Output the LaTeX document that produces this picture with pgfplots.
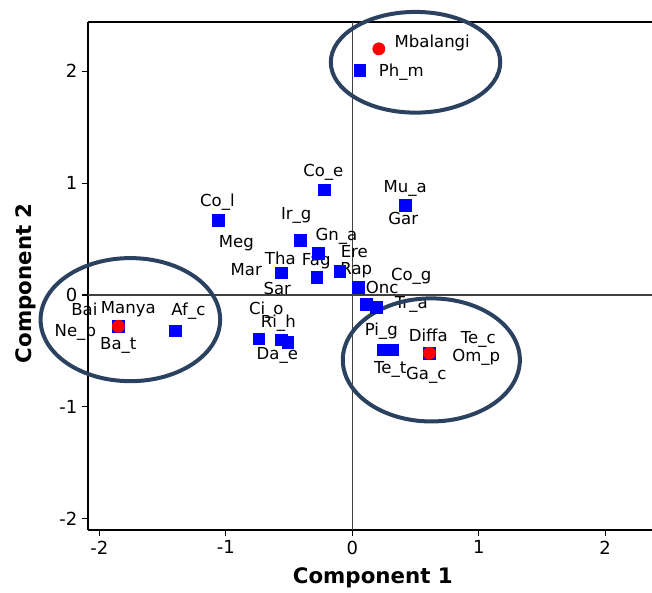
\documentclass[border=0pt]{standalone}
\usepackage{fontspec}
\setmainfont{DejaVu Sans}
\usepackage{pgfplots}
\pgfplotsset{compat=1.18}
\definecolor{ell}{HTML}{2B4160}
\definecolor{refl}{HTML}{404040}
\begin{document}
\begin{tikzpicture}
\begin{axis}[name=ax, scale only axis, width=423pt, height=381pt,
 xmin=-2.09, xmax=2.37, ymin=-2.10, ymax=2.44,
 clip=false,
 axis lines=left, axis line style={-, line width=1pt},
 xtick={-2,-1,0,1,2}, xticklabels={-2,-1,0,1,2},
 ytick={-2,-1,0,1,2}, yticklabels={-2,-1,0,1,2},
 tick align=outside, major tick length=4.5pt, tick style={black, line width=0.8pt},
 ticklabel style={font=\fontsize{13.5}{15}\selectfont},
 xlabel={Component 1}, ylabel={Component 2},
 label style={font=\bfseries\fontsize{16}{18}\selectfont},
 xlabel style={at={(axis description cs:0.505,-0.0945)}, anchor=center},
 ylabel style={at={(axis description cs:-0.111,0.486)}, anchor=center},
]
\draw[line width=1pt] (rel axis cs:0,1) -- (rel axis cs:1,1);
\draw[refl, line width=0.8pt] (axis cs:0,-2.10) -- (axis cs:0,2.44);
\draw[refl, line width=0.8pt] (axis cs:-2.09,0) -- (axis cs:2.37,0);
\addplot[only marks, mark=square*, mark size=4.4pt, blue] coordinates {
(0.06,2.01) (-0.22,0.94) (0.42,0.80) (-1.06,0.67) (-0.41,0.49)
(-0.27,0.375) (-0.56,0.20) (-0.28,0.16) (-0.10,0.21) (0.05,0.07)
(0.11,-0.08) (0.19,-0.11) (0.24,-0.49) (0.32,-0.49) (0.61,-0.52)
(-0.74,-0.39) (-0.56,-0.40) (-0.51,-0.42) (-1.40,-0.32) (-1.85,-0.28)};
\addplot[only marks, mark=*, mark size=4.6pt, red] coordinates {
(0.21,2.20) (0.61,-0.52) (-1.85,-0.28)};
\begin{scope}[font=\fontsize{12.4}{14}\selectfont]
\node at (axis cs:0.632,2.25) {Mbalangi};
\node at (axis cs:0.387,1.99) {Ph\_m};
\node at (axis cs:-0.229,1.098) {Co\_e};
\node at (axis cs:0.419,0.955) {Mu\_a};
\node at (axis cs:0.403,0.6875) {Gar};
\node at (axis cs:-1.067,0.83) {Co\_l};
\node at (axis cs:-0.443,0.714) {Ir\_g};
\node at (axis cs:-0.917,0.464) {Meg};
\node at (axis cs:-0.126,0.527) {Gn\_a};
\node at (axis cs:0.016,0.384) {Ere};
\node at (axis cs:-0.569,0.330) {Tha};
\node at (axis cs:-0.285,0.304) {Fag};
\node at (axis cs:0.032,0.223) {Rap};
\node at (axis cs:-0.838,0.223) {Mar};
\node at (axis cs:-0.593,0.054) {Sar};
\node at (axis cs:0.466,0.170) {Co\_g};
\node at (axis cs:0.237,0.071) {Onc};
\node at (axis cs:0.466,-0.080) {Tr\_a};
\node at (axis cs:-0.68,-0.134) {Ci\_o};
\node at (axis cs:-0.585,-0.25) {Ri\_h};
\node at (axis cs:-0.593,-0.536) {Da\_e};
\node at (axis cs:0.229,-0.321) {Pi\_g};
\node at (axis cs:0.601,-0.357) {Diffa};
\node at (axis cs:0.996,-0.393) {Te\_c};
\node at (axis cs:0.980,-0.554) {Om\_p};
\node at (axis cs:0.300,-0.661) {Te\_t};
\node at (axis cs:0.585,-0.714) {Ga\_c};
\node at (axis cs:-2.119,-0.125) {Bai};
\node at (axis cs:-1.771,-0.125) {Manya};
\node at (axis cs:-1.296,-0.143) {Af\_c};
\node at (axis cs:-2.19,-0.33) {Ne\_p};
\node at (axis cs:-1.85,-0.446) {Ba\_t};
\end{scope}
\draw[ell, line width=3pt] (axis cs:0.50,2.08) ellipse [x radius=0.67, y radius=0.45];
\draw[ell, line width=3pt] (axis cs:-1.755,-0.22) ellipse [x radius=0.71, y radius=0.55];
\draw[ell, line width=3pt] (axis cs:0.625,-0.58) ellipse [x radius=0.70, y radius=0.55];
\end{axis}
\pgfresetboundingbox
\useasboundingbox ([xshift=-66pt,yshift=-46.5pt]ax.south west) rectangle ([yshift=16.5pt]ax.north east);
\end{tikzpicture}
\end{document}
